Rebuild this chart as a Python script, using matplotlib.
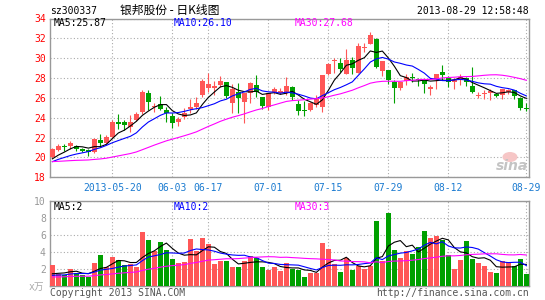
import matplotlib
matplotlib.use('Agg')
import matplotlib.pyplot as plt
from matplotlib.patches import Ellipse
import pandas as pd

# 日K线数据 (2013-05-06 ~ 2013-08-29)
opens = [20.0, 20.75, 21.2, 21.15, 21.2, 20.9, 20.75, 20.55, 21.75, 21.45,
         22.05, 23.55, 23.6, 23.05, 23.75, 24.55, 26.45, 25.05, 25.35, 24.8,
         24.15, 23.6, 24.1, 24.85, 25.1, 26.25, 26.95, 26.95, 27.35, 27.6,
         25.45, 26.6, 25.55, 26.5, 27.35, 26.1, 25.05, 26.6, 26.5, 26.6,
         27.1, 25.35, 24.8, 24.8, 25.25, 25.05, 28.4, 29.7, 29.5, 28.4,
         29.85, 28.55, 31.05, 31.4, 31.95, 28.75, 28.85, 27.6, 26.95, 27.75,
         28.15, 27.95, 27.85, 26.93, 27.93, 28.6, 28.05, 27.65, 27.77, 28.02,
         27.17, 26.22, 26.37, 26.5, 26.4, 26.3, 26.62, 26.75, 26.02, 25.0]
closes = [20.9, 21.2, 21.1, 21.45, 20.9, 20.7, 20.55, 21.85, 21.45, 22.05,
          23.6, 23.4, 23.25, 23.55, 24.4, 26.6, 25.55, 25.2, 24.85, 24.45,
          23.5, 23.9, 24.45, 25.1, 25.5, 27.75, 27.45, 27.15, 27.7, 26.15,
          26.85, 26.0, 26.45, 27.55, 26.6, 25.15, 26.5, 26.85, 26.7, 27.15,
          26.1, 24.65, 24.7, 25.45, 25.85, 28.35, 29.45, 29.85, 28.95, 29.85,
          29.05, 31.25, 31.15, 32.35, 29.1, 29.75, 27.8, 26.95, 27.6, 28.15,
          27.98, 27.85, 27.43, 27.05, 28.37, 28.27, 27.63, 27.8, 28.1, 27.6,
          26.6, 26.3, 26.5, 26.68, 26.2, 26.9, 26.77, 26.18, 24.97, 24.93]
highs = [21.0, 21.4, 21.4, 21.7, 21.25, 21.0, 20.9, 21.95, 22.35, 22.25,
         23.75, 24.4, 23.75, 24.25, 24.55, 26.75, 26.75, 25.45, 26.15, 25.05,
         24.45, 24.1, 24.95, 25.85, 26.1, 27.95, 28.5, 27.75, 28.25, 27.6,
         27.45, 27.5, 26.45, 27.6, 28.35, 26.1, 26.5, 27.05, 26.95, 28.1,
         27.15, 25.75, 25.7, 25.55, 26.25, 28.35, 29.5, 30.05, 30.05, 30.9,
         30.15, 31.5, 31.55, 32.65, 32.0, 29.75, 28.85, 27.8, 27.6, 28.4,
         28.5, 28.02, 27.85, 27.3, 28.43, 29.27, 28.2, 28.0, 28.37, 28.08,
         29.1, 26.57, 26.77, 26.93, 26.5, 26.93, 26.93, 26.77, 26.05, 25.45]
lows = [19.9, 20.6, 20.7, 20.9, 20.7, 20.5, 20.15, 20.45, 21.15, 21.4,
        22.0, 22.85, 22.8, 22.55, 23.65, 24.4, 24.8, 24.55, 24.75, 23.55,
        23.0, 23.2, 23.85, 24.5, 24.85, 26.1, 26.6, 26.25, 27.05, 26.0,
        24.45, 24.5, 23.5, 25.45, 26.1, 24.85, 24.75, 26.35, 26.35, 26.25,
        25.75, 24.25, 24.15, 24.65, 25.05, 24.55, 28.3, 28.55, 28.65, 28.4,
        28.4, 28.5, 30.65, 31.4, 29.05, 28.25, 27.4, 25.5, 26.8, 27.25,
        27.6, 27.2, 26.45, 26.3, 26.93, 27.77, 27.05, 26.9, 27.3, 27.2,
        26.5, 25.98, 25.9, 25.77, 26.1, 25.85, 26.4, 25.93, 24.82, 24.73]
# 成交量 (万手)
volumes = [2.44, 1.38, 1.22, 2.0, 1.5, 1.3, 1.06, 2.68, 3.62, 2.17,
           3.39, 3.03, 2.48, 2.6, 2.2, 6.34, 5.39, 4.06, 5.16, 4.21,
           3.15, 2.68, 2.8, 5.51, 4.06, 5.63, 4.96, 2.56, 2.95, 2.95,
           2.2, 2.2, 2.95, 3.46, 3.27, 2.2, 1.89, 2.2, 1.77, 2.68,
           1.95, 1.89, 1.02, 1.5, 1.5, 5.04, 4.33, 2.56, 1.61, 3.27,
           1.89, 2.36, 2.0, 2.28, 7.68, 2.87, 8.58, 4.25, 3.27, 4.06,
           3.78, 4.53, 6.5, 5.63, 5.9, 5.43, 3.58, 2.0, 3.07, 5.31,
           3.15, 2.68, 2.28, 1.61, 1.5, 2.87, 2.8, 2.36, 3.15, 1.38]

# 图表左侧之前的29个交易日（仅用于均线，估计值）
prev_close = [20.3, 20.1, 20.4, 20.0, 20.2, 19.9, 20.2, 20.0, 19.8, 20.1,
              19.9, 19.7, 20.0, 19.6, 19.8, 18.6, 18.2, 18.4, 18.1, 18.3,
              18.9, 19.2, 19.5, 19.4, 19.5, 19.3, 19.6, 19.8, 19.7]
prev_vol = [0.9, 1.0, 0.8, 0.9, 1.1, 0.9, 0.8, 1.0, 0.9, 1.0,
            0.8, 0.9, 1.0, 0.9, 0.8, 1.0, 0.9, 1.1, 1.0, 0.9,
            1.0, 1.1, 0.9, 1.0, 1.2, 1.1, 1.0, 1.3, 1.2]

tick_idx = [10, 20, 26, 36, 46, 56, 66, 79]
tick_labels = ['2013-05-20', '06-03', '06-17', '07-01', '07-15', '07-29', '08-12', '08-29']

W, H = 545, 300
RED = '#ff5757'
GREEN = '#00a000'
MONO = 'DejaVu Sans Mono'


def fx(x):
    return x / W


def fy(y):
    return 1 - y / H


n = len(closes)
xs = list(range(n))

c_all = pd.Series(prev_close + closes)
v_all = pd.Series(prev_vol + volumes)
ma_p = {k: c_all.rolling(k).mean().iloc[len(prev_close):].values for k in (5, 10, 30)}
ma_v = {k: v_all.rolling(k).mean().iloc[len(prev_vol):].values for k in (5, 10, 30)}
ma_colors = {5: 'black', 10: '#0000ff', 30: '#ff00ff'}

fig = plt.figure(figsize=(W / 100, H / 100), dpi=100)
ax = fig.add_axes([fx(50), fy(177.3), 479 / W, (177.3 - 18.5) / H])
axv = fig.add_axes([fx(50), fy(285.7), 479 / W, (285.7 - 201) / H])

colors = [RED if c >= o else GREEN for o, c in zip(opens, closes)]

# K线
ax.vlines(xs, lows, highs, colors=colors, linewidth=0.8, zorder=3)
bottoms = [min(o, c) for o, c in zip(opens, closes)]
heights = [max(abs(c - o), 0.1) for o, c in zip(opens, closes)]
ax.bar(xs, heights, bottom=bottoms, width=0.8, color=colors, linewidth=0, zorder=3)
for k in (5, 10, 30):
    ax.plot(xs, ma_p[k], color=ma_colors[k], linewidth=0.8, zorder=4)

# 成交量
axv.bar(xs, volumes, width=0.85, color=colors, linewidth=0, zorder=3)
for k in (5, 10, 30):
    axv.plot(xs, ma_v[k], color=ma_colors[k], linewidth=0.8, zorder=4)

for a in (ax, axv):
    a.set_xlim(-0.4, 79.45)
    a.set_xticks(tick_idx)
    a.grid(True, color='#aaaaaa', linestyle=(0, (1, 2)), linewidth=0.8, zorder=0)
    for s in a.spines.values():
        s.set_color('#999999')
        s.set_linewidth(1.0)
    a.tick_params(length=0)

ax.set_ylim(18, 34)
ax.set_yticks(range(18, 35, 2))
ax.set_yticklabels([str(v) for v in range(18, 35, 2)], color='#ff0000',
                   fontsize=7, family=MONO)
ax.set_xticklabels(tick_labels, color='#1a7ad0', fontsize=7, family=MONO)
ax.tick_params(axis='y', pad=3)
ax.tick_params(axis='x', pad=4)

axv.set_ylim(0, 10)
axv.set_yticks(range(2, 11, 2))
axv.set_yticklabels([str(v) for v in range(2, 11, 2)], color='#999999',
                    fontsize=7, family=MONO)
axv.set_xticklabels([])
axv.tick_params(axis='y', pad=3)

# 标题与图例文字
fig.text(fx(50), fy(11), 'sz300337', fontsize=7, family=MONO, va='center')
fig.text(fx(120), fy(10.5), '银邦股份 - 日K线图', fontsize=8.5,
         family=['Noto Sans CJK SC', 'DejaVu Sans'], va='center')
fig.text(fx(529), fy(11.5), '2013-08-29 12:58:48', fontsize=7, family=MONO,
         va='center', ha='right')

fig.text(fx(54), fy(23.5), 'MA5:25.87', fontsize=7, family=MONO, va='center', color='black')
fig.text(fx(174), fy(23.5), 'MA10:26.10', fontsize=7, family=MONO, va='center', color='#0000ff')
fig.text(fx(295), fy(23.5), 'MA30:27.68', fontsize=7, family=MONO, va='center', color='#ff00ff')

fig.text(fx(54), fy(206.5), 'MA5:2', fontsize=7, family=MONO, va='center', color='black')
fig.text(fx(174), fy(206.5), 'MA10:2', fontsize=7, family=MONO, va='center', color='#0000ff')
fig.text(fx(295), fy(206.5), 'MA30:3', fontsize=7, family=MONO, va='center', color='#ff00ff')

fig.text(fx(29), fy(287), 'x万', fontsize=7, family=[MONO, 'Noto Sans CJK SC'],
         va='center', color='#aaaaaa')
fig.text(fx(50), fy(292.5), 'Copyright 2013 SINA.COM', fontsize=7, family=MONO,
         va='center', color='#555555')
fig.text(fx(529), fy(292.5), 'http://finance.sina.com.cn', fontsize=7, family=MONO,
         va='center', ha='right', color='#555555')

# sina 水印
fig.patches.append(Ellipse((fx(510), fy(157)), 15 / W, 10 / H, transform=fig.transFigure,
                           facecolor='#f6c6c6', edgecolor='none', zorder=5))
fig.text(fx(512), fy(166), 'sina', fontsize=10, style='italic', weight='bold',
         color='#c4c4c4', ha='center', va='center', zorder=6)

fig.savefig('out.png', dpi=100)
